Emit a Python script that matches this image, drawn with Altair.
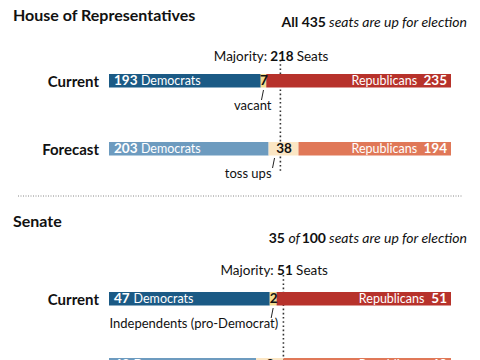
import altair as alt
import pandas as pd
import numpy as np

# ---------------- data ----------------
house_total = 435
house_majority = 218
house_current_parties = ["Democrats", "vacant", "Republicans"]
house_current_seats = [193, 7, 235]
house_forecast_parties = ["Democrats", "toss ups", "Republicans"]
house_forecast_seats = [203, 38, 194]

senate_total = 100
senate_majority = 51
senate_up = 35
senate_current_parties = ["Democrats", "Independents (pro-Democrat)", "Republicans"]
senate_current_seats = [47, 2, 51]
senate_forecast_parties = ["Democrats", "toss ups", "Republicans"]
senate_forecast_seats = [43, 8, 49]

# ---------------- layout / style ----------------
FONT = "Lato"
W, H = 464, 352
X0, X1 = 101, 443
BAR_H = 13.5
current_colors = ["#1b5a85", "#f3dc90", "#b7322b"]
forecast_colors = ["#6d9bbf", "#fbe6c4", "#e07858"]

xs = alt.Scale(domain=[0, 1], range=[X0, X1], nice=False, zero=False)
ys = alt.Scale(domain=[0, H], range=[0, H], nice=False, zero=False)


def X(f):
    return alt.X(f, type="quantitative", scale=xs, axis=None)


def Y(f):
    return alt.Y(f, type="quantitative", scale=ys, axis=None)


one = pd.DataFrame({"a": [0]})


def ptext(txt, x, y, align="left", size=13, weight="normal", style="normal", color="#111", baseline="alphabetic"):
    return alt.Chart(one).mark_text(
        text=txt, align=align, baseline=baseline, fontSize=size, fontWeight=weight,
        fontStyle=style, color=color, font=FONT
    ).encode(x=alt.value(x), y=alt.value(y))


def row_layers(label, parties, seats, total, colors, top, annot=None):
    seats = list(seats)
    cum = np.cumsum([0] + seats)
    df = pd.DataFrame({
        "party": parties,
        "seats": seats,
        "start": cum[:-1] / total,
        "end": cum[1:] / total,
        "color": colors,
        "top": top,
        "bottom": top + BAR_H,
        "ymid": top + BAR_H / 2 + 0.5,
    })
    df["mid"] = (df["start"] + df["end"]) / 2
    df["num"] = df["seats"].astype(str)
    L = []
    L.append(alt.Chart(df).mark_rect().encode(
        x=X("start"), x2=alt.X2("end"), y=Y("top"), y2=alt.Y2("bottom"),
        color=alt.Color("color:N", scale=None)))
    dem = df.iloc[[0]]
    mid = df.iloc[[1]]
    rep = df.iloc[[2]]
    ndig = len(str(seats[0]))
    L.append(alt.Chart(dem).mark_text(align="left", baseline="middle", dx=5, fontSize=13.5,
                                      fontWeight="bold", color="white", font=FONT)
             .encode(x=X("start"), y=Y("ymid"), text="num:N"))
    L.append(alt.Chart(dem).mark_text(align="left", baseline="middle", dx=5 + ndig * 7.3 + 5, fontSize=12.5,
                                      color="white", font=FONT)
             .encode(x=X("start"), y=Y("ymid"), text="party:N"))
    rdig = len(str(seats[2]))
    L.append(alt.Chart(rep).mark_text(align="right", baseline="middle", dx=-4, fontSize=13.5,
                                      fontWeight="bold", color="white", font=FONT)
             .encode(x=X("end"), y=Y("ymid"), text="num:N"))
    L.append(alt.Chart(rep).mark_text(align="right", baseline="middle", dx=-(4 + rdig * 7.3 + 8), fontSize=12.5,
                                      color="white", font=FONT)
             .encode(x=X("end"), y=Y("ymid"), text="party:N"))
    L.append(alt.Chart(mid).mark_text(align="center", baseline="middle", dx=0.5, fontSize=13.5,
                                      fontWeight="bold", color="#111", font=FONT)
             .encode(x=X("mid"), y=Y("ymid"), text="num:N"))
    L.append(ptext(label, 91, top + BAR_H / 2 + 1, align="right", size=15, weight="bold", baseline="middle"))
    if annot is not None:
        slash_dx, text_dx = annot
        mid2 = mid.assign(s1=top + BAR_H + 2.5, s2=top + BAR_H + 12.5, ty=top + BAR_H + 22.5)
        L.append(alt.Chart(mid2).mark_rule(color="#222", strokeWidth=1, xOffset=slash_dx, x2Offset=slash_dx - 2)
                 .encode(x=X("mid"), x2=alt.X2("mid"), y=Y("s1"), y2=alt.Y2("s2")))
        L.append(alt.Chart(mid2).mark_text(align="right", baseline="alphabetic", dx=text_dx, fontSize=13,
                                           color="#111", font=FONT)
                 .encode(x=X("mid"), y=Y("ty"), text="party:N"))
    return L


def majority_layers(majority, total, y_text, y1, y2):
    m = pd.DataFrame({"m": [majority / total], "y1": [y1], "y2": [y2], "yt": [y_text],
                      "num": [str(majority)]})
    half = len(str(majority)) * 3.6
    L = []
    L.append(alt.Chart(m).mark_rule(color="#333", strokeWidth=1.6, strokeDash=[1.6, 2.6])
             .encode(x=X("m"), y=Y("y1"), y2=alt.Y2("y2")))
    L.append(alt.Chart(m).mark_text(text="Majority:", align="right", dx=-(half + 2.5), fontSize=13.5,
                                    color="#111", font=FONT).encode(x=X("m"), y=Y("yt")))
    L.append(alt.Chart(m).mark_text(align="center", dx=1.5, fontSize=13.5, fontWeight="bold",
                                    color="#111", font=FONT).encode(x=X("m"), y=Y("yt"), text="num:N"))
    L.append(alt.Chart(m).mark_text(text="Seats", align="left", dx=half + 5.5, fontSize=13.5,
                                    color="#111", font=FONT).encode(x=X("m"), y=Y("yt")))
    return L


layers = []
# House
layers.append(ptext("House of Representatives", 5, 0, size=16, weight="bold", baseline="top"))
layers.append(ptext("seats are up for election", 459, 19, align="right", size=14, style="italic"))
layers.append(ptext(f"All {house_total}", 318, 19, align="right", size=14, weight="bold"))
layers += majority_layers(house_majority, house_total, 49, 52, 164)
layers += row_layers("Current", house_current_parties, house_current_seats, house_total, current_colors, 66,
                     annot=(0, 8))
layers += row_layers("Forecast", house_forecast_parties, house_forecast_seats, house_total, forecast_colors, 134,
                     annot=(-9, -12))
# separator
layers.append(alt.Chart(one).mark_rule(color="#888", strokeWidth=1, strokeDash=[1, 1.5]).encode(
    x=alt.value(10), x2=alt.value(454), y=alt.value(188)))
# Senate
layers.append(ptext("Senate", 5, 219, size=16, weight="bold"))
layers.append(ptext("seats are up for election", 459, 235, align="right", size=14, style="italic"))
layers.append(ptext(str(senate_total), 318, 235, align="right", size=14, weight="bold"))
layers.append(ptext("of", 292, 235, align="right", size=14, style="italic"))
layers.append(ptext(str(senate_up), 277, 235, align="right", size=14, weight="bold"))
layers += majority_layers(senate_majority, senate_total, 263, 267, 352)
layers += row_layers("Current", senate_current_parties, senate_current_seats, senate_total, current_colors, 284,
                     annot=(0, 5))
layers += row_layers("Forecast", senate_forecast_parties, senate_forecast_seats, senate_total, forecast_colors, 350)

chart = alt.layer(*layers).properties(
    width=W, height=H, padding=0, autosize=alt.AutoSizeParams(type="none")
).configure_view(stroke=None)

chart.save("out.html", embed_options={"renderer": "svg", "actions": False})
